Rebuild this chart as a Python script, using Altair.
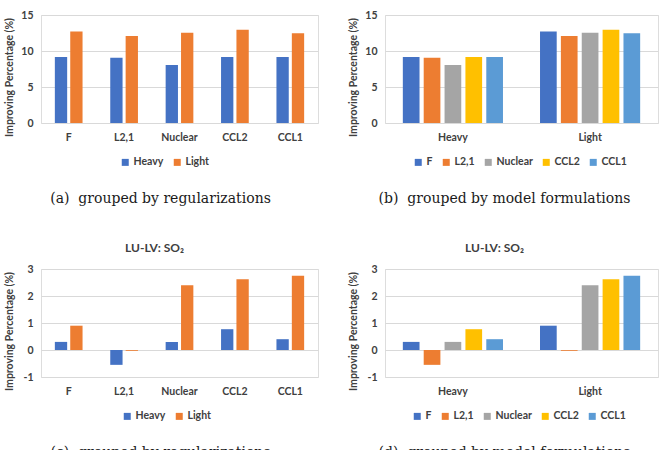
import altair as alt
import pandas as pd

regs = ["F", "L2,1", "Nuclear", "CCL2", "CCL1"]
forms = ["Heavy", "Light"]
top_heavy = [9.15, 9.05, 8.05, 9.15, 9.15]
top_light = [12.7, 12.1, 12.55, 12.95, 12.45]
bot_heavy = [0.3, -0.55, 0.3, 0.77, 0.4]
bot_light = [0.9, -0.03, 2.4, 2.62, 2.75]
top_ticks = [0, 5, 10, 15]
bot_ticks = [-1, 0, 1, 2, 3]
captions = ["(a)\u00a0 grouped by regularizations", "(b)\u00a0 grouped by model formulations",
            "(c)\u00a0 grouped by regularizations", "(d)\u00a0 grouped by model formulations"]
sub_title = "LU-LV: SO\u2082"
y_title = "Improving Percentage (%)"

reg_colors = ["#4472C4", "#ED7D31", "#A5A5A5", "#FFC000", "#5B9BD5"]
form_colors = ["#4472C4", "#ED7D31"]

FONT = "Lato"
TXT = "#404040"


def make_df(heavy, light):
    rows = []
    for i, r in enumerate(regs):
        rows.append({"reg": r, "form": "Heavy", "value": heavy[i]})
        rows.append({"reg": r, "form": "Light", "value": light[i]})
    return pd.DataFrame(rows)


def y_enc(domain, ticks):
    return alt.Y(
        "value:Q",
        scale=alt.Scale(domain=domain, nice=False, zero=False),
        axis=alt.Axis(
            values=ticks, title=y_title, titleFont=FONT, titleFontSize=10.5, titleFontWeight="bold",
            titleColor=TXT, titleX=-32, titleY=62, titleAngle=270, titleAlign="center",
            titleBaseline="middle", labelFont=FONT, labelFontSize=10.5, labelFontWeight="bold",
            labelColor=TXT, labelPadding=8, ticks=False, domain=False, gridColor="#D9D9D9",
            gridWidth=1, labelExpr="'' + datum.value",
        ),
    )


def x_axis(caption):
    return alt.Axis(
        title=caption, titleFont="DejaVu Serif", titleFontSize=14, titleFontWeight="normal",
        titleColor="#1a1a1a", titleX=119, titleY=75, titleAlign="center", titleBaseline="middle",
        labelFont=FONT, labelFontSize=10.5, labelFontWeight="bold", labelColor=TXT,
        labelAngle=0, labelPadding=9, ticks=False, domain=False, grid=False,
    )


def legend(x, y):
    return alt.Legend(
        orient="none", legendX=x, legendY=y, direction="horizontal", title=None,
        symbolType="square", symbolSize=49, symbolStrokeWidth=0, labelFont=FONT,
        labelFontSize=10.5, labelFontWeight="bold", labelColor=TXT, labelOffset=3,
        columnPadding=8, padding=0,
    )


def panel_reg(df, domain, ticks, caption, lx, ly):
    return alt.Chart(df).mark_bar().encode(
        x=alt.X("reg:N", sort=regs, scale=alt.Scale(paddingInner=0.5, paddingOuter=0.25),
                axis=x_axis(caption)),
        xOffset=alt.XOffset("form:N", sort=forms, scale=alt.Scale(paddingInner=0.2)),
        y=y_enc(domain, ticks),
        color=alt.Color("form:N", scale=alt.Scale(domain=forms, range=form_colors),
                        legend=legend(lx, ly)),
    ).properties(width=277, height=108)


def panel_form(df, domain, ticks, caption, lx, ly):
    return alt.Chart(df).mark_bar().encode(
        x=alt.X("form:N", sort=forms, scale=alt.Scale(paddingInner=0.27, paddingOuter=0.13),
                axis=x_axis(caption)),
        xOffset=alt.XOffset("reg:N", sort=regs, scale=alt.Scale(paddingInner=0.2)),
        y=y_enc(domain, ticks),
        color=alt.Color("reg:N", scale=alt.Scale(domain=regs, range=reg_colors),
                        legend=legend(lx, ly)),
    ).properties(width=273, height=108)


def sub(dx):
    return alt.TitleParams(sub_title, font=FONT, fontSize=12, fontWeight="bold", color=TXT,
                           anchor="start", frame="group", offset=9, dx=dx)


top_df = make_df(top_heavy, top_light)
bot_df = make_df(bot_heavy, bot_light)

a = panel_reg(top_df, [0, 15], top_ticks, captions[0], 79, 142)
b = panel_form(top_df, [0, 15], top_ticks, captions[1], 28, 142)
c = panel_reg(bot_df, [-1, 3], bot_ticks, captions[2], 81, 142).properties(title=sub(84))
d = panel_form(bot_df, [-1, 3], bot_ticks, captions[3], 27, 142).properties(title=sub(80))

row1 = alt.hconcat(a, b, spacing=67, bounds="flush").resolve_scale(color="independent", xOffset="independent", x="independent")
row2 = alt.hconcat(c, d, spacing=67, bounds="flush").resolve_scale(color="independent", xOffset="independent", x="independent")

chart = alt.vconcat(row1, row2, spacing=254, bounds="flush").resolve_scale(
    color="independent", xOffset="independent", x="independent", y="independent"
).properties(
    padding={"left": 3, "top": 9, "right": 0, "bottom": 0}
).configure_view(stroke=None).configure(background="white")

chart.save("out.html", embed_options={"renderer": "svg", "actions": False})
